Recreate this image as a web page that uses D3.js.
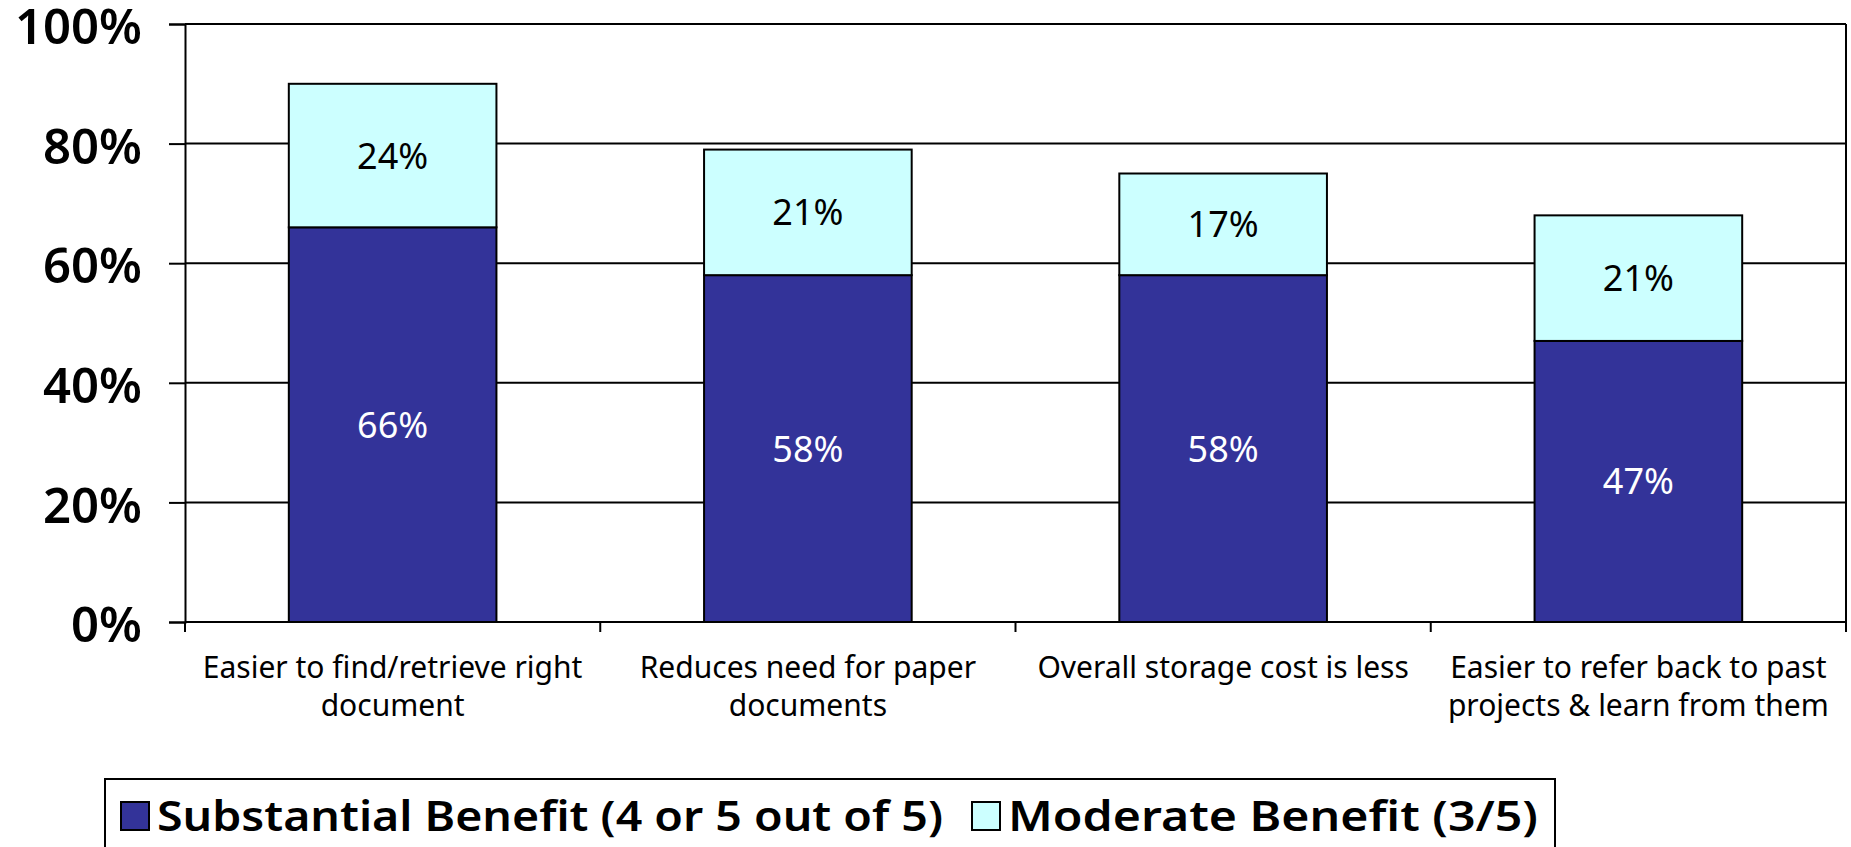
<!DOCTYPE html>
<html>
<head>
<meta charset="utf-8">
<script src="https://cdn.jsdelivr.net/npm/d3@7"></script>
<style>
body { margin: 0; background: #fff; }
svg { display: block; }
text { font-family: "Noto Sans", sans-serif; fill: #000; }
</style>
</head>
<body>
<svg width="1851" height="847"></svg>
<script>
var categories = ["c1", "c2", "c3", "c4"];
var categoryLines = [
  ["Easier to find/retrieve right", "document"],
  ["Reduces need for paper", "documents"],
  ["Overall storage cost is less"],
  ["Easier to refer back to past", "projects & learn from them"]
];
var substantial = [66, 58, 58, 47];
var moderate = [24, 21, 17, 21];
var yTicks = [0, 20, 40, 60, 80, 100];
var seriesKeys = ["substantial", "moderate"];
var seriesNames = ["Substantial Benefit (4 or 5 out of 5)", "Moderate Benefit (3/5)"];
var seriesColors = ["#333399", "#ccffff"];
var labelColors = ["#fff", "#000"];

var svg = d3.select("svg");

var plotLeft = 185, plotRight = 1846, plotTop = 24, plotBottom = 622;

var x = d3.scaleBand()
  .domain(categories)
  .range([plotLeft, plotRight])
  .paddingInner(0.5)
  .paddingOuter(0.25);

var y = d3.scaleLinear()
  .domain([0, 100])
  .range([plotBottom, plotTop]);

var color = d3.scaleOrdinal().domain(seriesKeys).range(seriesColors);
var labelColor = d3.scaleOrdinal().domain(seriesKeys).range(labelColors);

var rows = categories.map(function(c, i) {
  return {cat: c, substantial: substantial[i], moderate: moderate[i]};
});
var stacked = d3.stack().keys(seriesKeys)(rows);

// gridlines
svg.append("g")
  .selectAll("line")
  .data(yTicks)
  .enter().append("line")
  .attr("x1", plotLeft).attr("x2", plotRight)
  .attr("y1", function(d) { return y(d); })
  .attr("y2", function(d) { return y(d); })
  .attr("stroke", "#000")
  .attr("stroke-width", 2);

// right border of plot area
svg.append("line")
  .attr("x1", plotRight).attr("x2", plotRight)
  .attr("y1", plotTop).attr("y2", plotBottom)
  .attr("stroke", "#000").attr("stroke-width", 2);

// y axis
var yAxis = svg.append("g")
  .attr("transform", "translate(" + plotLeft + ",0)")
  .call(d3.axisLeft(y).tickValues(yTicks).tickSize(16).tickPadding(27)
    .tickFormat(function(d) { return d + "%"; }));
yAxis.select(".domain").attr("stroke", "#000").attr("stroke-width", 2);
yAxis.selectAll(".tick line").attr("stroke", "#000").attr("stroke-width", 2);
yAxis.selectAll(".tick text")
  .style("font-family", "'Noto Sans', sans-serif")
  .style("font-size", "49px")
  .style("font-weight", "600")
  .attr("fill", "#000")
  .attr("dy", "0.4em");

// bars
var layer = svg.selectAll(".layer")
  .data(stacked)
  .enter().append("g")
  .attr("class", "layer");

layer.selectAll("rect")
  .data(function(s) { return s.map(function(d) { d.key = s.key; return d; }); })
  .enter().append("rect")
  .attr("x", function(d) { return x(d.data.cat); })
  .attr("width", x.bandwidth())
  .attr("y", function(d) { return y(d[1]); })
  .attr("height", function(d) { return y(d[0]) - y(d[1]); })
  .attr("fill", function(d) { return color(d.key); })
  .attr("stroke", "#000")
  .attr("stroke-width", 2);

layer.selectAll("text")
  .data(function(s) { return s; })
  .enter().append("text")
  .attr("x", function(d) { return x(d.data.cat) + x.bandwidth() / 2; })
  .attr("y", function(d) { return (y(d[0]) + y(d[1])) / 2; })
  .attr("dy", "0.36em")
  .attr("text-anchor", "middle")
  .style("font-size", "36px")
  .style("fill", function(d) { return labelColor(d.key); })
  .text(function(d) { return (d[1] - d[0]) + "%"; });

// x axis
svg.append("line")
  .attr("x1", plotLeft).attr("x2", plotRight)
  .attr("y1", plotBottom).attr("y2", plotBottom)
  .attr("stroke", "#000").attr("stroke-width", 2);

var bounds = d3.range(categories.length + 1).map(function(i) { return plotLeft + i * x.step(); });
svg.append("g")
  .selectAll("line")
  .data(bounds)
  .enter().append("line")
  .attr("x1", function(d) { return d; })
  .attr("x2", function(d) { return d; })
  .attr("y1", plotBottom).attr("y2", plotBottom + 10)
  .attr("stroke", "#000").attr("stroke-width", 2);

var catLabel = svg.append("g")
  .selectAll("text")
  .data(categories)
  .enter().append("text")
  .attr("text-anchor", "middle")
  .style("font-size", "30px");

catLabel.selectAll("tspan")
  .data(function(d, i) { return categoryLines[i]; })
  .enter().append("tspan")
  .attr("x", function() { return x(d3.select(this.parentNode).datum()) + x.bandwidth() / 2; })
  .attr("y", function(d, i) { return 678 + i * 38; })
  .text(function(d) { return d; });

// legend
var legend = svg.append("g");
legend.append("rect")
  .attr("x", 105).attr("y", 779)
  .attr("width", 1450).attr("height", 120)
  .attr("fill", "#fff")
  .attr("stroke", "#000").attr("stroke-width", 2);

var legendX = [121, 972];
var legendW = [786, 530];
var item = legend.selectAll(".item")
  .data(seriesKeys)
  .enter().append("g")
  .attr("class", "item")
  .attr("transform", function(d, i) { return "translate(" + legendX[i] + ",802)"; });

item.append("rect")
  .attr("width", 28).attr("height", 28)
  .attr("fill", function(d) { return color(d); })
  .attr("stroke", "#000").attr("stroke-width", 2);

item.append("text")
  .attr("x", 36)
  .attr("y", 29)
  .style("font-size", "42px")
  .style("font-weight", "600")
  .attr("textLength", function(d, i) { return legendW[i]; })
  .attr("lengthAdjust", "spacingAndGlyphs")
  .text(function(d, i) { return seriesNames[i]; });
</script>
</body>
</html>
